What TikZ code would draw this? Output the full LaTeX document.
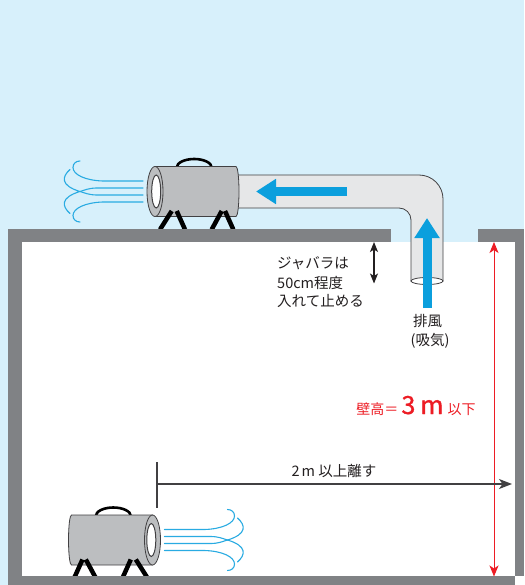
\documentclass[tikz,border=0pt]{standalone}
\usepackage{fontspec}
\setmainfont{Noto Sans CJK JP}
\newfontfamily\heightfont[FakeBold=1.2]{Noto Sans CJK JP}
\usetikzlibrary{arrows.meta}

\definecolor{sky}{HTML}{D7F0FB}
\definecolor{wallgray}{HTML}{808285}
\definecolor{bodygray}{HTML}{BCBEC0}
\definecolor{ductgray}{HTML}{E6E7E8}
\definecolor{edge}{HTML}{414042}
\definecolor{airblue}{HTML}{0B9FDD}
\definecolor{windblue}{HTML}{29ABE2}
\definecolor{alertred}{HTML}{ED1C24}
\definecolor{ink}{HTML}{231F20}

\tikzset{
  blacktip/.tip={Stealth[length=10pt, width=8pt, inset=2.5pt]},
  redtip/.tip={Stealth[length=11pt, width=9pt, inset=3pt]},
  wall/.style={fill=wallgray, draw=none},
  casing/.style={fill=bodygray, draw=edge, line width=0.8pt},
  duct/.style={fill=ductgray, draw=edge, line width=0.8pt},
  leg/.style={draw=black, line width=4.5pt},
  handlebar/.style={draw=black, line width=2.6pt},
  windline/.style={draw=windblue, line width=1.1pt, line cap=round},
  flowarrow/.style={draw=airblue, line width=9pt, -{Triangle[length=20pt, width=24pt]}},
  note/.style={text=ink, inner sep=0pt, font=\fontsize{14.5}{16}\selectfont},
  measure/.style={draw=edge, line width=1.2pt},
  % portable heater, front opening at the origin, body extending to +x
  heater/.pic={
    \draw[handlebar] (21.7,-24) arc[start angle=180, end angle=360, x radius=17.5, y radius=8.5];
    \draw[casing] (0,-25) -- (81,-25)
      arc[start angle=-90, end angle=90, x radius=3, y radius=25] -- (0,25) -- cycle;
    \draw[casing] (0,0) ellipse[x radius=8, y radius=25];
    \draw[draw=edge, fill=white, line width=1pt] (1.2,0) ellipse[x radius=4.5, y radius=16.5];
    \draw[leg] (16.7,19.5) -- (5,38)   (21.7,19.5) -- (30,38)
               (66.7,19.5) -- (56.7,38) (70,19.5) -- (78.3,38);
  },
  % stream of air leaving the heater towards -x
  gust/.pic={
    \draw[windline] (-12,-10.5) -- (-52,-10.5) .. controls (-70,-11) and (-82,-17) .. (-82,-24)
      .. controls (-82,-28) and (-79,-30.5) .. (-75,-30.5);
    \draw[windline] (-12,10.5) -- (-52,10.5) .. controls (-70,11) and (-82,17) .. (-82,24)
      .. controls (-82,28) and (-79,30.5) .. (-75,30.5);
    \draw[windline] (-12,-3.5) -- (-58,-3.5) .. controls (-66,-3.5) and (-70,-1.5) .. (-75,0);
    \draw[windline] (-12,3.5) -- (-58,3.5) .. controls (-66,3.5) and (-70,1.5) .. (-75,0);
    \draw[windline] (-85,-22) .. controls (-93,-15) and (-95,-6) .. (-75,0)
      .. controls (-95,6) and (-93,15) .. (-85,22);
  },
}

\begin{document}
\begin{tikzpicture}[x=1pt, y=-1pt]
\useasboundingbox (0,0) rectangle (524,585);

% sky and room interior
\fill[sky] (0,0) rectangle (524,585);
\fill[white] (22,242) rectangle (515,576);
\fill[white] (515,576) rectangle (524,585);

% flexible duct with elbow through the roof opening
\draw[duct] (225,175) -- (419,175) arc[start angle=-90, end angle=0, radius=24]
  -- (443,281) -- (411,281) -- (411,220) arc[start angle=0, end angle=-90, radius=12]
  -- (225,208) -- cycle;
\draw[draw=edge, fill=white, line width=0.8pt] (427,281) ellipse[x radius=16, y radius=3.5];

% heater on the roof, blowing left
\pic at (155,191.5) {heater};
\pic at (155,191.5) {gust};
% heater on the floor, blowing right
\pic[xscale=-1] at (152.5,540) {heater};
\pic[xscale=-1] at (152.5,540) {gust};

% roof, walls and floor
\fill[wall] (8,229) rectangle (391,242);
\fill[wall] (478,229) rectangle (524,242);
\fill[wall] (8,229) rectangle (22,585);
\fill[wall] (515,229) rectangle (524,576);
\fill[wall] (8,576) rectangle (515,585);

% air flow in the duct
\coordinate (hTail) at (347,191.5);
\coordinate (hTip) at (256,191.5);
\coordinate (vTail) at (427,308);
\coordinate (vTip) at (427,218);
\draw[flowarrow] (hTail) -- (hTip);
\draw[flowarrow] (vTail) -- (vTip);

% duct insertion depth
\coordinate (insTop) at (374,242);
\coordinate (insBot) at (374,283.5);
\draw[draw=ink, line width=1.1pt, {blacktip}-{blacktip}] (insTop) -- (insBot);
\node[note, anchor=base west] (j1) at (277,268) {ジャバラは};
\node[note, anchor=base west] (j2) at (277,288) {50cm程度};
\node[note, anchor=base west] (j3) at (277,306.5) {入れて止める};

\node[note, anchor=base] (ex1) at (427.5,326) {排風};
\node[note, anchor=base] (ex2) at (430,345) {(吸気)};

% wall height
\coordinate (hTop) at (494,242);
\coordinate (hBot) at (494,576.5);
\draw[draw=alertred, line width=1pt, {redtip}-{redtip}] (hTop) -- (hBot);
\node[inner sep=0pt, text=alertred, anchor=base] (wallh) at (416,414)
  {\fontsize{14}{16}\selectfont 壁高＝\hspace{3pt}{\heightfont\fontsize{25}{27}\selectfont 3\hspace{5pt}m}\hspace{4pt}以下};

% distance from the duct to the floor heater
\coordinate (tickTop) at (157,462);
\coordinate (tickBot) at (157,508);
\coordinate (dStart) at (157,484);
\coordinate (dEnd) at (512,484);
\draw[measure] (tickTop) -- (tickBot);
\draw[measure, -{Stealth[length=13pt, width=10pt, inset=3.5pt]}] (dStart) -- (dEnd);
\node[note, anchor=base] (dist) at (334,476) {2\hspace{2pt}m 以上離す};
\end{tikzpicture}
\end{document}
